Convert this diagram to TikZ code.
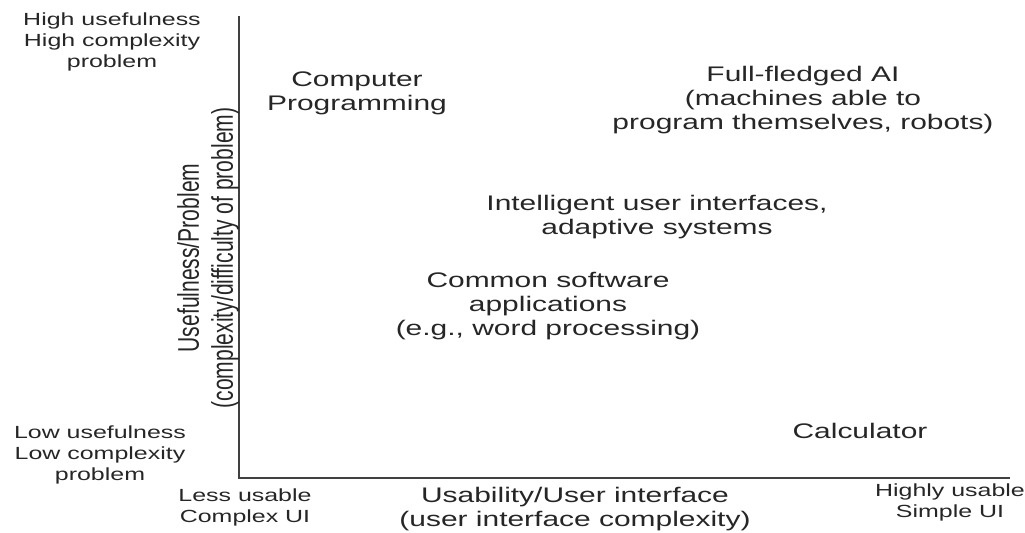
\documentclass[tikz,border=0pt]{standalone}
\usepackage{fontspec}
\setmainfont{Liberation Sans}[FakeStretch=1.42]
\newfontfamily\plainsans{Liberation Sans}
\usetikzlibrary{positioning}

\begin{document}
\begin{tikzpicture}[x=0.02cm,y=-0.02cm,every node/.style={font=\fontsize{12}{13.6}\selectfont,text=black!85,align=center,inner sep=0pt}]
  \tikzset{small/.style={font=\fontsize{10}{11.9}\selectfont},
    axis/.style={draw=black!75,line width=1.1pt}}
  \useasboundingbox (0,0) rectangle (1025,532);
  % axes
  \coordinate (top) at (239,16);
  \coordinate (orig) at (239,478);
  \coordinate (right) at (1010,478);
  \draw[axis] (top)--(orig)--(right);
  % corner labels
  \node[small] (hi) at (112,42) {High usefulness\\High complexity\\problem};
  \node[small] (lo) at (100,455) {Low usefulness\\Low complexity\\problem};
  \node[small] (less) at (245,507) {Less usable\\Complex UI};
  \node[small] (more) at (950,502) {Highly usable\\Simple UI};
  % axis titles
  \node (xlab) at (575,509) {Usability/User interface\\(user interface complexity)};
  \node[rotate=90] (ylab) at (209,258) {\scalebox{1}[1.42]{\plainsans\begin{tabular}{@{}c@{}}Usefulness/Problem\\(complexity/difficulty of problem)\end{tabular}}};
  % entries
  \node (prog) at (357,93) {Computer\\Programming};
  \node (ai) at (803,100) {Full-fledged AI\\(machines able to\\program themselves, robots)};
  \node (iui) at (657,217) {Intelligent user interfaces,\\adaptive systems};
  \node (app) at (548,306) {Common software\\applications\\(e.g., word processing)};
  \node (calc) at (860,431) {Calculator};
\end{tikzpicture}
\end{document}
